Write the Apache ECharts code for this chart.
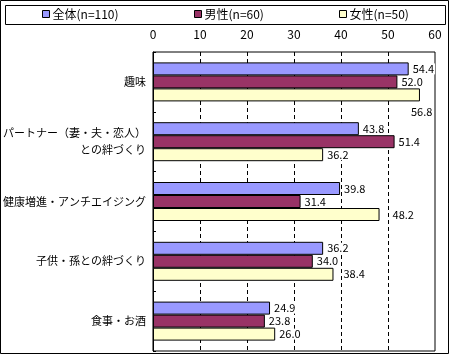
<!DOCTYPE html>
<html>
<head>
<meta charset="utf-8">
<script src="https://cdn.jsdelivr.net/npm/echarts@6/dist/echarts.min.js"></script>
<style>
html,body{margin:0;padding:0;background:#fff;}
#c{width:450px;height:356px;}
</style>
</head>
<body>
<div id="c"></div>
<script>
var categories = ['趣味', 'パートナー（妻・夫・恋人）\nとの絆づくり', '健康増進・アンチエイジング', '子供・孫との絆づくり', '食事・お酒'];
var seriesNames = ['全体(n=110)', '男性(n=60)', '女性(n=50)'];
var totalValues = [54.4, 43.8, 39.8, 36.2, 24.9];
var maleValues = [52.0, 51.4, 31.4, 34.0, 23.8];
var femaleValues = [56.8, 36.2, 48.2, 38.4, 26.0];
var xTicks = [0, 10, 20, 30, 40, 50, 60];

var FONT = '"Noto Sans CJK JP", "Noto Sans", sans-serif';
var colors = ['#9999FF', '#993366', '#FFFFCC'];
var allValues = [totalValues, maleValues, femaleValues];

// label placement tweaks (series index, data index) -> offset
var labelOffsets = {
  '2-0': [-13, 17],
  '2-2': [9, 0],
  '2-3': [6, 0]
};

var series = seriesNames.map(function (name, si) {
  return {
    name: name,
    type: 'bar',
    barWidth: 13,
    barGap: '0%',
    itemStyle: { color: colors[si], borderColor: '#000', borderWidth: 1 },
    label: {
      show: true,
      position: 'right',
      distance: 3,
      color: '#000',
      fontSize: 11,
      fontFamily: FONT,
      backgroundColor: '#fff',
      padding: [0, 1],
      formatter: function (p) { return p.value.toFixed(1); }
    },
    data: allValues[si].map(function (v, di) {
      var off = labelOffsets[si + '-' + di];
      if (off) return { value: v, label: { offset: off } };
      return v;
    })
  };
});

var legendLefts = [42, 194, 339];
var legends = seriesNames.map(function (name, i) {
  return {
    data: [name],
    left: legendLefts[i],
    top: 8,
    padding: 0,
    icon: 'rect',
    itemWidth: 7,
    itemHeight: 7,
    itemStyle: { borderColor: '#000', borderWidth: 1 },
    textStyle: { fontSize: 12, fontFamily: FONT, color: '#000', padding: [0, 0, 0, -2] },
    selectedMode: false
  };
});

var chart = echarts.init(document.getElementById('c'), null, { renderer: 'canvas' });
chart.setOption({
  animation: false,
  backgroundColor: '#fff',
  color: colors,
  legend: legends,
  graphic: [
    { type: 'rect', shape: { x: 0.5, y: 0.5, width: 448, height: 353 }, style: { fill: null, stroke: '#000', lineWidth: 1 }, z: 100 },
    { type: 'rect', shape: { x: 5.5, y: 5.5, width: 440, height: 19 }, style: { fill: null, stroke: '#000', lineWidth: 1 }, z: 100 }
  ],
  grid: {
    left: 152, right: 15, top: 52, bottom: 5,
    show: true, borderColor: '#000', borderWidth: 1, backgroundColor: '#fff',
    containLabel: false
  },
  xAxis: {
    type: 'value',
    position: 'top',
    min: xTicks[0],
    max: xTicks[xTicks.length - 1],
    interval: xTicks[1] - xTicks[0],
    axisLine: { show: false },
    axisTick: { show: false },
    axisLabel: { color: '#000', fontSize: 12, fontFamily: FONT, margin: 12 },
    splitLine: { show: true, showMinLine: false, showMaxLine: false, lineStyle: { color: '#000', type: [4, 3], width: 1 } }
  },
  yAxis: {
    type: 'category',
    inverse: true,
    data: categories,
    axisLine: { show: true, lineStyle: { color: '#000', width: 1 } },
    axisTick: { show: true, inside: true, length: 3, lineStyle: { color: '#000' } },
    axisLabel: { color: '#000', fontSize: 11, fontFamily: FONT, margin: 7, lineHeight: 17, align: 'right' },
    splitLine: { show: false }
  },
  series: series
});
</script>
</body>
</html>
